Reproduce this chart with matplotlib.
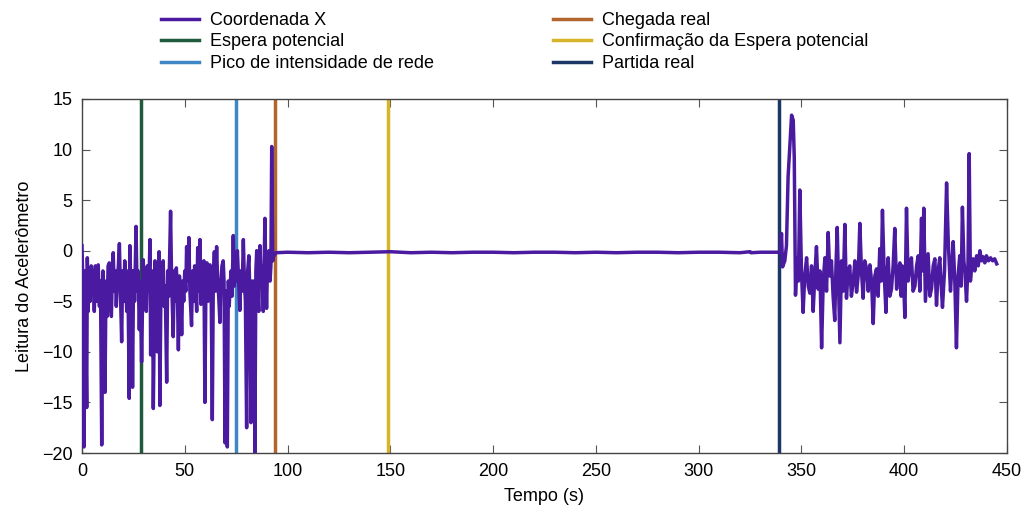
import numpy as np
import matplotlib
matplotlib.use("Agg")
from matplotlib import pyplot as plt

plt.rcParams['font.family'] = ['Liberation Sans', 'DejaVu Sans']

# leituras (tempo s, valor) antes da parada (0 - 94 s)
antes = [(0.0, 0.5), (0.5, -4.0), (1.0, -19.4), (1.5, -2.0), (2.3, -15.5), (2.6, -0.7),
         (3.0, -6.0), (3.5, -2.5), (4.0, -5.0), (4.5, -1.5), (5.0, -4.0), (5.5, -2.0),
         (6.0, -6.0), (6.5, -1.5), (7.0, -5.0), (7.5, -2.0), (7.9, -1.4), (8.5, -5.5),
         (9.0, -3.0), (9.6, -19.2), (10.2, -2.0), (11.2, -14.0), (11.7, -3.0),
         (12.2, -6.5), (12.7, -1.5), (13.3, -1.2), (13.8, -5.0), (14.3, -6.5),
         (14.8, -2.0), (15.2, -0.2), (15.7, -4.0), (16.2, -2.0), (16.7, -5.5),
         (17.2, -3.0), (17.7, -1.5), (18.2, 0.7), (18.7, -4.0), (19.3, -9.0),
         (19.8, -2.0), (20.3, -5.0), (20.8, -1.0), (21.3, -3.5), (21.8, -6.0),
         (22.3, -2.0), (23.0, -14.6), (23.3, 0.5), (23.8, -4.0), (24.2, -2.0),
         (24.6, -13.5), (25.1, -2.0), (25.6, -5.0), (26.3, 2.4), (26.8, -4.0),
         (27.3, -2.0), (27.9, -7.8), (28.4, -3.0), (29.0, -11.0), (29.8, -0.9),
         (30.3, -4.0), (30.8, -2.5), (31.3, -6.0), (31.8, -1.5), (32.3, -4.0),
         (32.7, -2.0), (33.1, 1.1), (33.4, -10.3), (33.9, -3.0), (34.3, -2.0),
         (34.7, -15.6), (35.5, -1.0), (36.0, -5.0), (36.6, -10.0), (37.0, -2.5),
         (37.5, -0.1), (37.9, -15.3), (38.4, -4.0), (38.9, -2.0), (39.5, -1.0),
         (40.0, -5.5), (40.5, -3.5), (41.2, -13.0), (41.7, -2.0), (42.2, -4.5),
         (42.6, -1.0), (43.1, 3.9), (43.6, -3.0), (44.4, -8.5), (44.9, -2.0),
         (45.4, -5.0), (45.9, -1.7), (46.4, -4.0), (46.9, -9.8), (47.4, -2.5),
         (48.0, -4.0), (48.5, -8.3), (49.0, -3.0), (49.5, -5.0), (50.0, -2.0),
         (50.5, -4.0), (50.9, 0.4), (51.4, -3.0), (52.0, 1.3), (52.5, -4.0),
         (53.3, -7.4), (53.8, -2.0), (54.3, -5.0), (54.8, -1.5), (55.3, -3.5),
         (55.8, -6.0), (56.3, 0.3), (56.8, -4.0), (57.4, 1.1), (57.9, -5.3),
         (58.4, -2.0), (58.9, -4.0), (59.3, -1.0), (59.8, -15.0), (60.3, -3.0),
         (60.8, -1.2), (61.3, -5.0), (61.8, -2.5), (62.3, -1.4), (62.8, -3.0),
         (63.4, -16.7), (63.9, -2.5), (64.4, -0.1), (64.9, -4.0), (65.5, 0.4),
         (66.0, -3.0), (66.5, -4.5), (67.1, -7.1), (67.6, -3.0), (68.1, -1.5),
         (68.7, -1.0), (69.1, -3.0), (69.6, -19.0), (70.1, -4.0), (70.7, -19.4),
         (71.2, -3.0), (71.6, -5.5), (72.0, -4.0), (72.5, -2.0), (73.0, -4.5),
         (73.6, 1.5), (74.1, -3.5), (74.6, -1.0), (75.1, -3.0), (75.6, 0.0),
         (76.0, -2.0), (76.8, -5.9), (77.3, -2.0), (77.9, -4.0), (78.5, 1.1),
         (79.0, -3.0), (79.5, -5.0), (80.1, -17.5), (80.6, -2.0), (81.2, -0.5),
         (81.7, -4.5), (82.2, -17.0), (82.8, -3.0), (83.3, -14.5), (83.7, -3.0),
         (84.1, -20.0), (84.6, -2.0), (85.0, 0.0), (85.5, -4.0), (86.0, -6.0),
         (86.6, 0.5), (87.1, -3.0), (87.6, -1.5), (88.2, -6.0), (88.6, -1.5),
         (89.0, 3.2), (89.4, -2.0), (89.8, -5.7), (90.3, -1.0), (91.0, 0.0),
         (91.5, -3.0), (91.9, -1.5), (92.3, 10.3), (92.8, -1.0), (93.3, -0.5),
         (93.8, -0.4)]

# periodo parado (94 - 339 s)
parado = [(94.3, -0.2), (100.0, -0.15), (110.0, -0.2), (120.0, -0.15), (130.0, -0.2),
          (140.0, -0.15), (150.0, -0.1), (160.0, -0.2), (170.0, -0.15), (180.0, -0.2),
          (190.0, -0.15), (200.0, -0.15), (210.0, -0.2), (220.0, -0.15), (230.0, -0.15),
          (240.0, -0.2), (250.0, -0.15), (260.0, -0.2), (270.0, -0.15), (280.0, -0.15),
          (290.0, -0.2), (300.0, -0.15), (310.0, -0.15), (320.0, -0.2), (325.0, -0.1),
          (325.5, -0.2), (330.0, -0.15), (339.3, -0.15)]

# depois da partida (339 - 445 s)
depois = [(339.8, -0.2), (340.3, 1.7), (340.8, -1.6), (341.9, -1.0), (342.7, 0.5),
          (343.5, 7.3), (344.4, 10.6), (345.2, 13.4), (346.0, 12.9), (346.5, 9.2),
          (347.1, -4.4), (347.9, -0.7), (348.5, -3.0), (349.2, 6.0), (350.0, -2.0),
          (350.8, -6.1), (351.6, -2.5), (352.5, -0.7), (353.3, -3.5), (354.1, -4.2),
          (354.9, -1.5), (355.7, -6.0), (356.5, -2.5), (357.3, 0.4), (358.1, -3.8),
          (359.0, -2.0), (359.8, -9.6), (360.6, -3.0), (361.4, -0.7), (362.2, -4.0),
          (363.0, 1.8), (363.8, -2.5), (364.6, -1.0), (365.4, -4.5), (366.2, -6.9),
          (366.8, -1.5), (367.4, 2.3), (368.0, -3.0), (368.7, -9.1), (369.5, -1.0),
          (370.3, -4.0), (371.1, 2.6), (371.9, -4.7), (372.7, -2.0), (373.5, -1.5),
          (374.3, -4.5), (375.2, -3.0), (376.0, -1.0), (376.8, -4.1), (377.6, -2.5),
          (378.4, 2.7), (379.2, -2.0), (380.0, -4.7), (380.8, -1.0), (381.7, -1.8),
          (382.5, -4.0), (383.3, -1.4), (384.1, -3.0), (384.9, -7.2), (385.7, -2.5),
          (386.5, -1.8), (387.3, -4.5), (388.1, 0.2), (388.8, -3.0), (389.4, 4.0),
          (390.2, -2.0), (391.1, -6.1), (391.7, -2.0), (392.2, -0.7), (393.0, -4.5),
          (393.8, -3.8), (394.6, -1.5), (395.4, 2.2), (396.3, -3.8), (397.1, -2.0),
          (397.9, -1.2), (398.5, -4.5), (399.0, -1.5), (399.7, -3.0), (400.3, -6.6),
          (401.1, 4.2), (401.9, -3.0), (402.7, -1.5), (403.5, -0.7), (404.3, -4.0),
          (405.2, -3.5), (406.0, -1.5), (406.8, -0.5), (407.6, -4.0), (408.4, 3.2),
          (409.0, -2.0), (409.5, 4.2), (410.3, -5.0), (411.0, -2.5), (411.6, -0.3),
          (412.5, -4.5), (413.3, -3.7), (414.1, -1.5), (414.9, -0.8), (415.7, -5.4),
          (416.5, -2.0), (417.3, -0.7), (418.0, -3.5), (418.6, -5.6), (419.6, -2.0),
          (420.6, 6.7), (421.4, 1.0), (422.5, -4.0), (423.2, -1.5), (423.8, 0.9),
          (424.6, -3.0), (425.4, -9.6), (426.2, -2.5), (427.0, -0.5), (427.7, -3.5),
          (428.3, 4.3), (429.0, -1.0), (429.5, -2.0), (430.3, -5.0), (431.0, -1.5),
          (431.6, 9.6), (432.2, -3.0), (432.8, -1.5), (433.5, -0.8), (434.3, -2.0),
          (435.2, -0.5), (436.0, -1.5), (436.8, 0.0), (437.6, -1.0), (438.4, -0.6),
          (439.2, -1.2), (440.0, -0.5), (441.0, -1.0), (442.0, -0.7), (443.0, -1.0),
          (444.0, -0.8), (445.0, -1.3)]

# eventos (s)
eventos = ["Espera potencial", "Pico de intensidade de rede", "Chegada real",
           "Confirmação da Espera potencial", "Partida real"]
t_eventos = [28.6, 75.1, 93.8, 148.9, 339.3]
cores_eventos = ["#1f5a3d", "#3f86c4", "#b2662e", "#d6b52a", "#1c3766"]

fig = plt.figure(figsize=(10.26, 5.11), dpi=100)
ax = fig.add_axes([0.0799, 0.1135, 0.9016, 0.6928])

t, y = zip(*(antes + parado + depois))
ax.plot(t, y, color="#4a1aa0", lw=2.5, label="Coordenada X", zorder=3)

for nome, te, cor in zip(eventos, t_eventos, cores_eventos):
    ax.axvline(te, color=cor, lw=2.5, label=nome, zorder=2)

ax.set_xlim(0, 450)
ax.set_ylim(-20, 15)
ax.set_xticks(np.arange(0, 451, 50))
ax.set_yticks(np.arange(-20, 16, 5))
ax.tick_params(direction="in", length=6, width=0.8, color="#555555",
               top=True, right=True, labelsize=13, pad=7)
for s in ax.spines.values():
    s.set_color("#444444")
    s.set_linewidth(1.0)

ax.set_xlabel("Tempo (s)", fontsize=13, labelpad=6)
ax.set_ylabel("Leitura do Acelerômetro", fontsize=13, labelpad=6)

# legenda em duas colunas acima do grafico
h, l = ax.get_legend_handles_labels()
fig.legend(h, l, ncol=2, loc="upper left", bbox_to_anchor=(0.141, 1.008),
           frameon=False, fontsize=13, handlelength=2.1, handletextpad=0.6,
           columnspacing=6.6, labelspacing=0.24)

plt.savefig("out.png", dpi=100)
